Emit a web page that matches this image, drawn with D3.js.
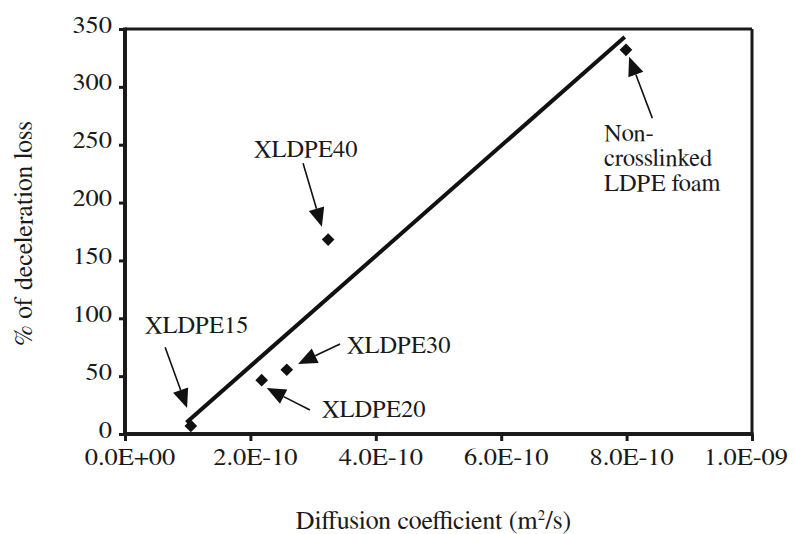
<!DOCTYPE html>
<html>
<head>
<meta charset="utf-8">
<script src="https://cdn.jsdelivr.net/npm/d3@7"></script>
</head>
<body style="margin:0">
<svg id="fig" width="795" height="534"></svg>
<script>
// === Data ===
const sampleNames = ['XLDPE15', 'XLDPE20', 'XLDPE30', 'XLDPE40', 'Non-crosslinked LDPE foam'];
const diffusion   = [1.05e-10, 2.18e-10, 2.58e-10, 3.24e-10, 7.99e-10];   // m2/s
const decelLoss   = [7, 46.5, 55.5, 168, 332];                            // %

// trend line end points
const trendX = [0.98e-10, 7.97e-10];
const trendY = [10, 343];

const xTicks      = [0, 2e-10, 4e-10, 6e-10, 8e-10, 1e-9];
const xTickLabels = ['0.0E+00', '2.0E-10', '4.0E-10', '6.0E-10', '8.0E-10', '1.0E-09'];
const yTicks      = [0, 50, 100, 150, 200, 250, 300, 350];

// annotation text + arrow (all in data units)
const annLines = [['XLDPE15'], ['XLDPE20'], ['XLDPE30'], ['XLDPE40'], ['Non-', 'crosslinked', 'LDPE foam']];
const annTextX = [0.32e-10, 3.14e-10, 3.54e-10, 2.06e-10, 7.64e-10];
const annTextY = [87, 15, 70, 239, 253];
const arrowFromX = [0.64e-10, 2.95e-10, 3.43e-10, 2.84e-10, 8.41e-10];
const arrowFromY = [75, 20.7, 77.8, 234, 273];
const arrowToX   = [0.99e-10, 2.26e-10, 2.76e-10, 3.14e-10, 8.04e-10];
const arrowToY   = [22.5, 39.8, 60.5, 179, 326];

const FONT = '"FreeSerif"';
const INK = '#1a1a1a';

// === Layout ===
const W = 795, H = 534;
const margin = { top: 29, right: 43, bottom: 100, left: 125 };
const x = d3.scaleLinear().domain([0, 1e-9]).range([margin.left, W - margin.right]);
const y = d3.scaleLinear().domain([0, 350]).range([H - margin.bottom, margin.top]);

const svg = d3.select('#fig');

// every label: placed with a transform, same font
function label(g, px, py, size, str, sx = 1) {
  return g.append('text')
    .attr('transform', `translate(${px},${py}) scale(${sx},1)`)
    .style('font-family', FONT).style('font-size', size + 'px')
    .attr('fill', INK)
    .text(str);
}

// --- Axes (ticks from d3, labels drawn by hand so the font sticks) ---
const xAxis = svg.append('g')
  .attr('transform', `translate(0,${y(0)})`)
  .call(d3.axisBottom(x).tickValues(xTicks).tickFormat('').tickSize(7));

const yAxis = svg.append('g')
  .attr('transform', `translate(${x(0)},0)`)
  .call(d3.axisLeft(y).tickValues(yTicks).tickFormat('').tickSize(6));

[xAxis, yAxis].forEach(g => {
  g.attr('font-family', null);
  g.select('.domain').remove();
  g.selectAll('.tick line').attr('stroke', INK).attr('stroke-width', 3);
  g.selectAll('.tick text').remove();
});

const tickLab = svg.append('g');
xTicks.forEach((v, i) => {
  const t = label(tickLab, 0, 0, 24, xTickLabels[i]).attr('text-anchor', 'middle');
  const half = t.node().getComputedTextLength() * 1.1 / 2;
  let cx = x(v) + 5;
  if (cx + half > W - 7) cx = W - 7 - half;
  t.attr('transform', `translate(${cx},${y(0) + 31}) scale(1.1,1)`);
});
yTicks.forEach(v => {
  label(tickLab, x(0) - 13, y(v) + 3.5, 24, String(v), 1.1).attr('text-anchor', 'end');
});

// --- Frame ---
const frame = svg.append('g').attr('stroke', INK).attr('fill', 'none');
frame.append('line').attr('x1', x(0)).attr('x2', x(1e-9)).attr('y1', y(350)).attr('y2', y(350)).attr('stroke-width', 3);
frame.append('line').attr('x1', x(1e-9)).attr('x2', x(1e-9)).attr('y1', y(350)).attr('y2', y(0)).attr('stroke-width', 3);
frame.append('line').attr('x1', x(0)).attr('x2', x(0)).attr('y1', y(350) - 1.5).attr('y2', y(0) + 2).attr('stroke-width', 4);
frame.append('line').attr('x1', x(0) - 2).attr('x2', x(1e-9) + 1.5).attr('y1', y(0)).attr('y2', y(0)).attr('stroke-width', 4);

// --- Trend line ---
svg.append('line')
  .attr('x1', x(trendX[0])).attr('y1', y(trendY[0]))
  .attr('x2', x(trendX[1])).attr('y2', y(trendY[1]))
  .attr('stroke', '#111').attr('stroke-width', 4);

// --- Points (diamonds) ---
svg.append('g').selectAll('path')
  .data(sampleNames.map((n, i) => ({ name: n, d: diffusion[i], v: decelLoss[i] })))
  .join('path')
  .attr('d', d3.symbol(d3.symbolSquare, 80))
  .attr('transform', d => `translate(${x(d.d)},${y(d.v)}) rotate(45)`)
  .attr('fill', '#111');

// --- Annotations ---
const ann = svg.append('g');
annLines.forEach((lines, i) => {
  lines.forEach((s, j) =>
    label(ann, Math.round(x(annTextX[i])), Math.round(y(annTextY[i])) + j * 25, 24, s, 1.02));

  // arrow: shaft + filled head
  const x0 = x(arrowFromX[i]), y0 = y(arrowFromY[i]);
  const x1 = x(arrowToX[i]),   y1 = y(arrowToY[i]);
  const len = Math.hypot(x1 - x0, y1 - y0);
  const ux = (x1 - x0) / len, uy = (y1 - y0) / len;
  const headL = 19, headW = 8;
  const bx = x1 - ux * headL, by = y1 - uy * headL;
  ann.append('line')
    .attr('x1', x0).attr('y1', y0).attr('x2', bx).attr('y2', by)
    .attr('stroke', '#111').attr('stroke-width', 1.6);
  ann.append('path')
    .attr('d', `M${x1},${y1}L${bx - uy * headW},${by + ux * headW}L${bx + uy * headW},${by - ux * headW}Z`)
    .attr('fill', '#111');
});

// --- Axis titles ---
const xt = label(svg, (x(0) + x(1e-9)) / 2 - 5, 529, 26, 'Diffusion coefficient (m')
  .attr('text-anchor', 'middle');
xt.append('tspan').attr('dy', -9).style('font-size', '15px').text('2');
xt.append('tspan').attr('dy', 9).text('/s)');

label(svg, 0, 0, 26, '% of deceleration loss')
  .attr('text-anchor', 'middle')
  .attr('transform', `translate(32,${(y(0) + y(350)) / 2 + 2}) rotate(-90)`);
</script>
</body>
</html>
